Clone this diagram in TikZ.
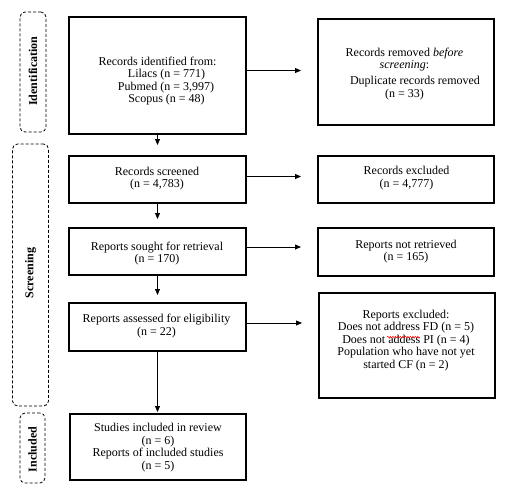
\documentclass[tikz,border=0pt]{standalone}
\usepackage{fontspec}
\setmainfont{Liberation Serif}
\usetikzlibrary{arrows.meta,decorations.pathmorphing}
\begin{document}
\begin{tikzpicture}[x=1pt,y=-1pt,
  box/.style={draw, line width=2pt, inner sep=0pt},
  txt/.style={align=center, inner sep=0pt, font=\fontsize{12}{12.5}\selectfont},
  side/.style={draw, dashed, dash pattern=on 3pt off 2pt, line width=0.8pt, rounded corners=5pt, inner sep=0pt},
  sidetxt/.style={rotate=90, inner sep=0pt, font=\fontsize{12}{12.5}\selectfont\bfseries},
  arr/.style={line width=0.8pt, -{Triangle[length=6pt,width=5pt]}}]
\useasboundingbox (0,0) rectangle (509,488);
% side boxes
\node[side, minimum width=26pt, minimum height=120pt] (sid) at (33,72) {};
\node[sidetxt] (sidt) at (33,71) {Identification};
\node[side, minimum width=36pt, minimum height=262pt] (sscr) at (30.5,275) {};
\node[sidetxt] (sscrt) at (30.5,273) {Screening};
\node[side, minimum width=25pt, minimum height=70pt] (sinc) at (32.5,448) {};
\node[sidetxt] (sinct) at (32.5,449.5) {Included};
% main boxes
\node[box, minimum width=177pt, minimum height=117pt] (id) at (157.5,75.5) {};
\node[txt] (idt) at (157.5,81) {Records identified from:\\ \hspace*{18pt}Lilacs (n = 771)\\ \hspace*{17pt}Pubmed (n = 3,997)\\ \hspace*{18pt}Scopus (n = 48)};
\node[box, minimum width=176pt, minimum height=106pt] (rem) at (406,72) {};
\node[txt] (remt) at (404.5,74) {Records removed \textit{before}\\ \textit{screening}:\\[3.5pt] \hspace*{21pt}Duplicate records removed\\ (n = 33)};
\node[box, minimum width=177pt, minimum height=47pt] (scr) at (157.5,179.5) {};
\node[txt] (scrt) at (157,178.5) {Records screened\\ (n = 4,783)};
\node[box, minimum width=176pt, minimum height=47pt] (exc) at (406,179.5) {};
\node[txt] (exct) at (406.5,178) {Records excluded\\ (n = 4,777)};
\node[box, minimum width=177pt, minimum height=47pt] (sought) at (157.5,251.5) {};
\node[txt] (soughtt) at (157,253.5) {Reports sought for retrieval\\ (n = 170)};
\node[box, minimum width=176pt, minimum height=48pt] (notret) at (406,252) {};
\node[txt] (notrett) at (406,251.5) {Reports not retrieved\\ (n = 165)};
\node[box, minimum width=177pt, minimum height=48pt] (assess) at (157.5,327) {};
\node[txt] (assesst) at (156.5,326) {Reports assessed for eligibility\\ (n = 22)};
\node[box, minimum width=176pt, minimum height=105pt] (rexc) at (407,345.5) {};
\node[txt] (rexct) at (406,340.5) {Reports excluded:\\ Does not address FD (n = 5)\\ Does not addess PI (n = 4)\\ Population who have not yet\\ started CF (n = 2)};
\node[box, minimum width=176pt, minimum height=66pt] (incl) at (158,447) {};
\node[txt] (inclt) at (158,447.5) {Studies included in review\\ (n = 6)\\ Reports of included studies\\ (n = 5)};
% spelling mark
\coordinate (sq1) at (387,337);
\coordinate (sq2) at (420,337);
\draw[red, line width=0.5pt, decorate, decoration={snake, amplitude=0.7pt, segment length=2.5pt}] (sq1) -- (sq2);
% horizontal arrows
\draw[arr, shorten >=16pt] ([yshift=5pt]id.east) -- ([yshift=5pt]id.east -| rem.west);
\draw[arr, shorten >=16pt] ([yshift=3pt]scr.east) -- ([yshift=3pt]scr.east -| exc.west);
\draw[arr, shorten >=16pt] ([yshift=4.5pt]sought.east) -- ([yshift=4.5pt]sought.east -| notret.west);
\draw[arr, shorten >=16pt] ([yshift=4pt]assess.east) -- ([yshift=4pt]assess.east -| rexc.west);
% vertical arrows
\draw[arr, shorten >=10pt] (id.south) -- (scr.north);
\draw[arr, shorten >=8pt] (scr.south) -- (sought.north);
\draw[arr, shorten >=7pt] (sought.south) -- (assess.north);
\draw[arr, shorten >=1pt] (assess.south) -- (assess.south |- incl.north);
\end{tikzpicture}
\end{document}
